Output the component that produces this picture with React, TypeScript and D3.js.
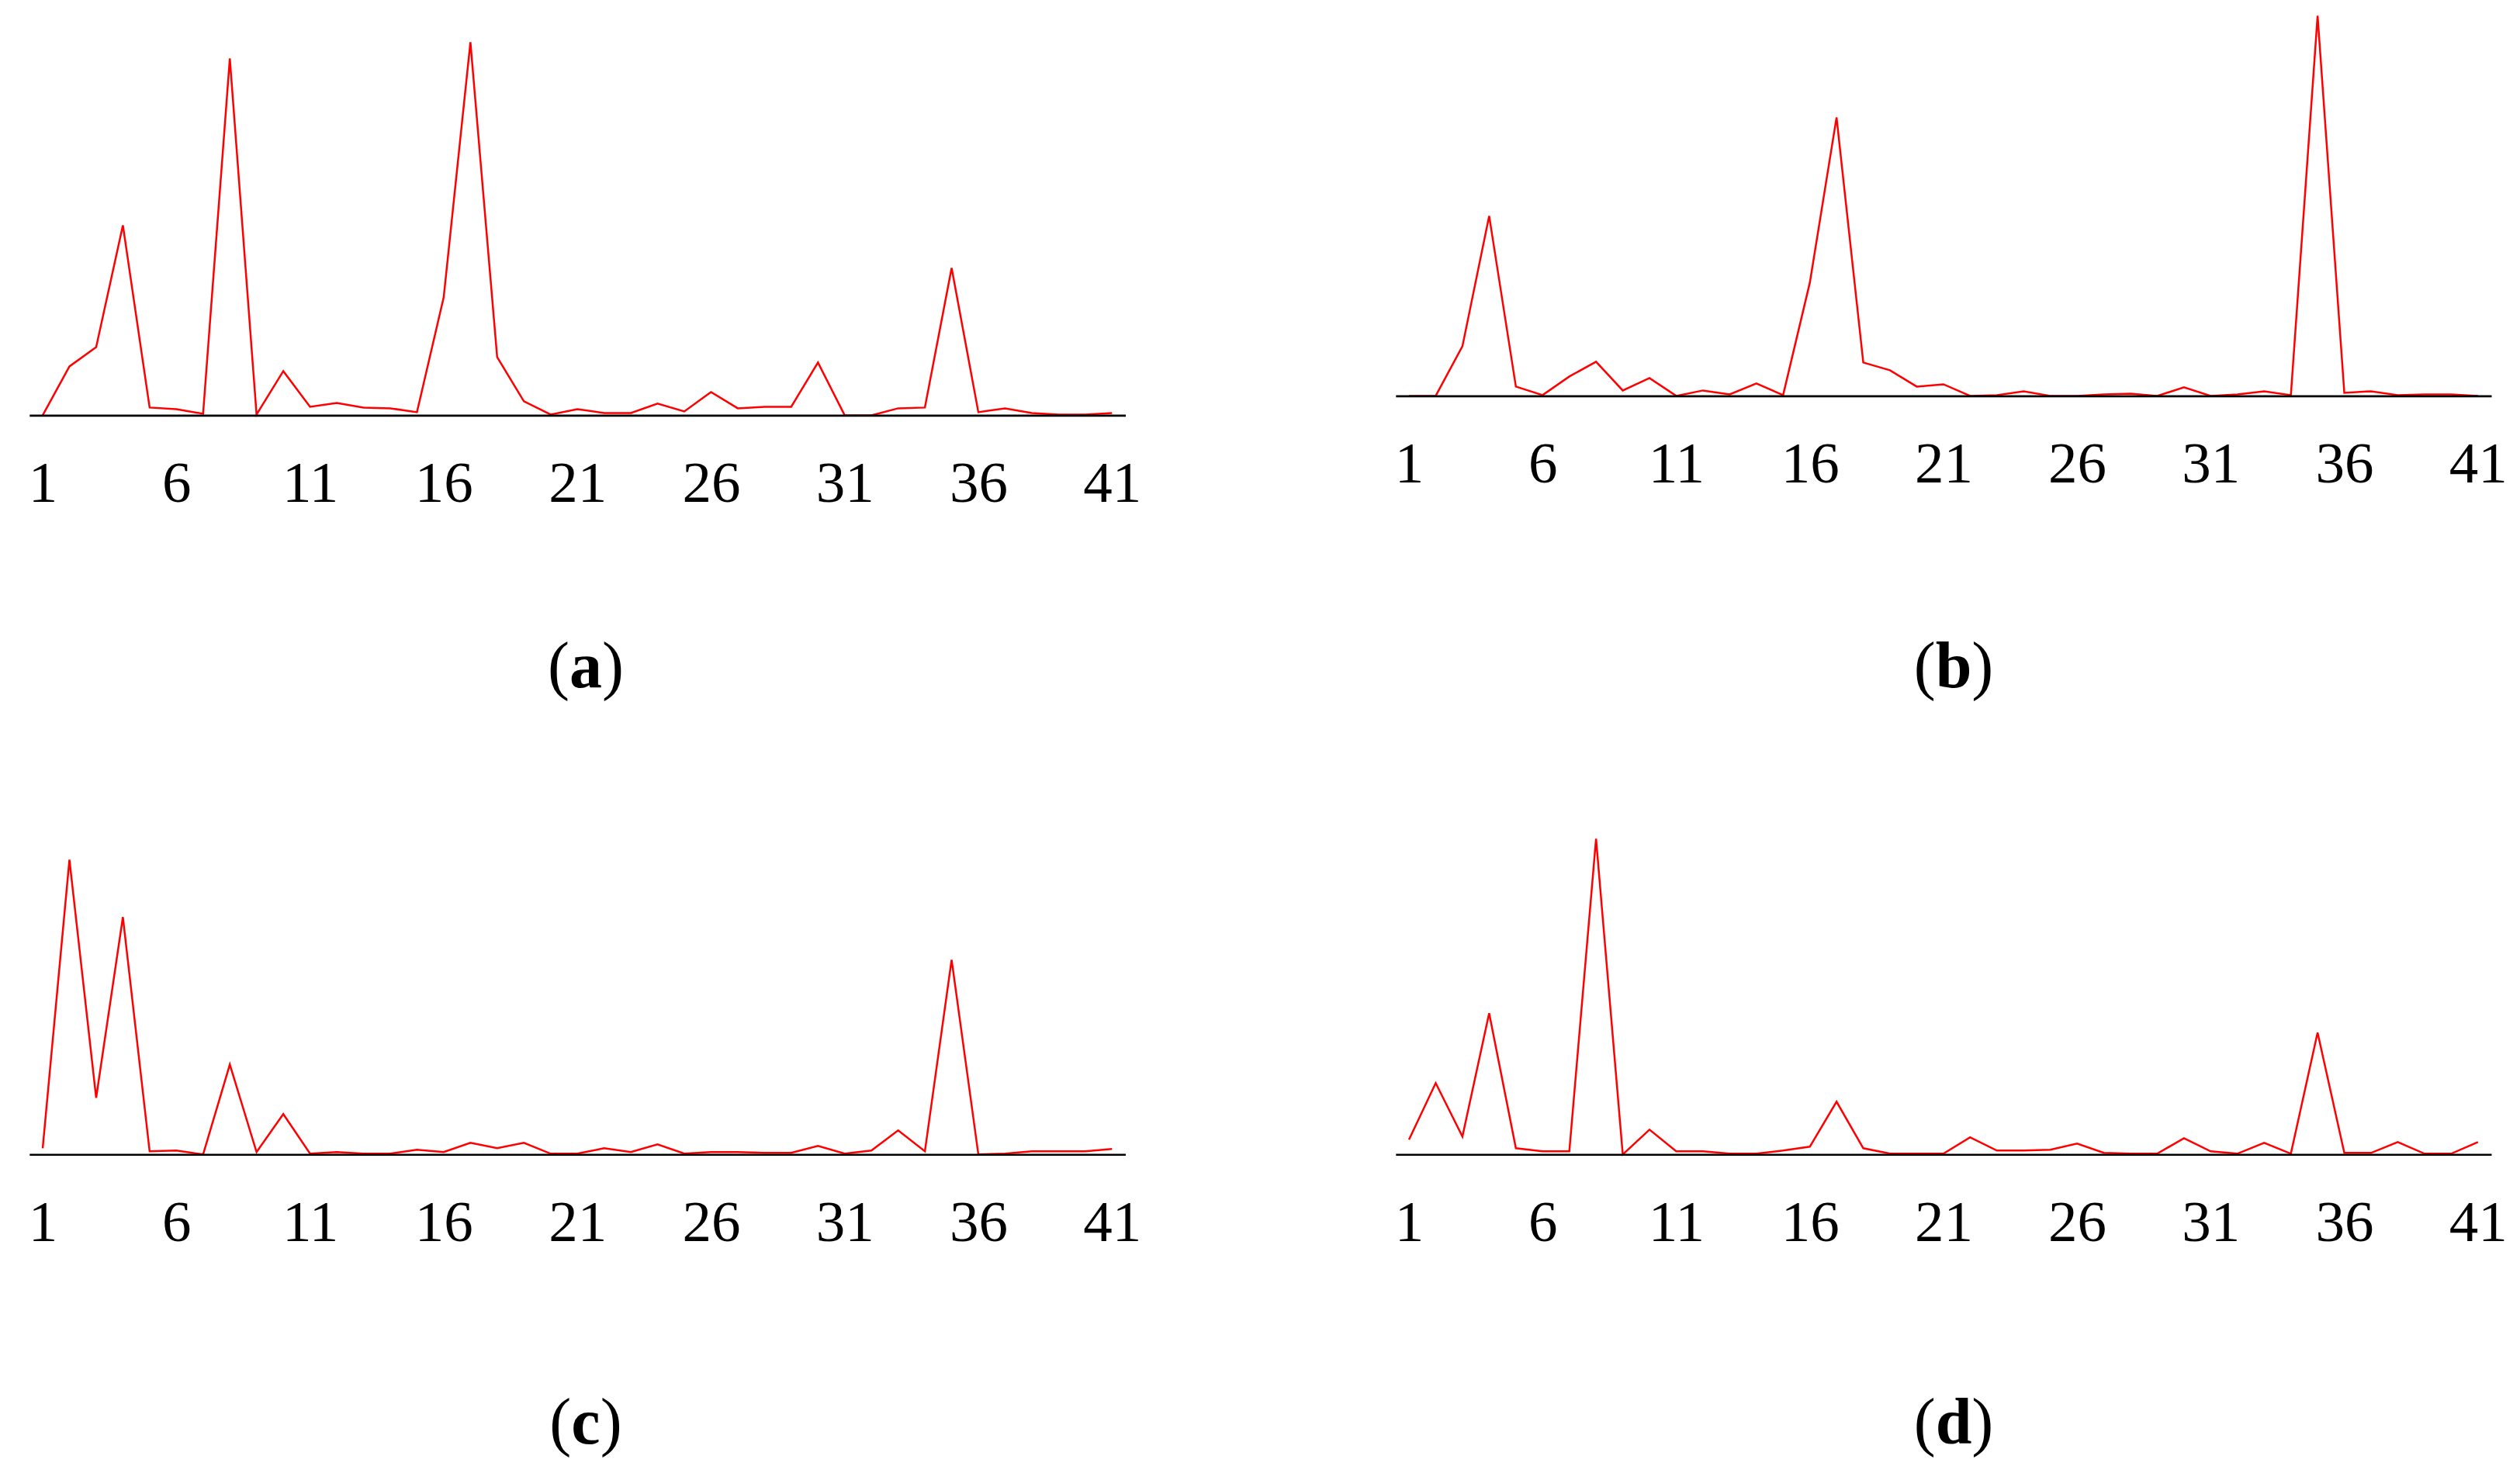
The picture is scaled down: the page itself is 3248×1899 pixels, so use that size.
import React, { useEffect, useRef } from "react";
import * as d3 from "d3";

// x 位置 1..41
const positions: number[] = d3.range(1, 42);
const tickValues: number[] = [1, 6, 11, 16, 21, 26, 31, 36, 41];

// 各子圖數值 (由圖上量測)
const seriesA: number[] = [
    0, 63, 88, 245, 10, 8, 2, 460, 1, 57,
    11, 16, 10, 9, 4, 152, 481, 75, 18, 1,
    8, 3, 3, 15, 5, 30, 9, 11, 11, 68,
    0, 0, 9, 10, 190, 4, 9, 3, 1, 1,
    3,
];
const seriesB: number[] = [
    0, 0, 64, 232, 12, 1, 25, 44, 7, 23,
    0, 7, 2, 16, 1, 146, 359, 43, 33, 12,
    15, 0, 1, 6, 0, 0, 2, 3, 0, 11,
    0, 2, 6, 1, 490, 4, 6, 1, 2, 2,
    0,
];
const seriesC: number[] = [
    8, 380, 73, 306, 4, 5, 0, 116, 3, 52,
    1, 3, 1, 1, 6, 3, 15, 8, 15, 1,
    1, 8, 3, 13, 1, 3, 3, 2, 2, 11,
    1, 5, 31, 4, 251, 0, 1, 4, 4, 4,
    7,
];
const seriesD: number[] = [
    19, 92, 23, 182, 8, 4, 4, 407, 0, 32,
    4, 4, 1, 1, 5, 10, 68, 8, 1, 1,
    1, 22, 5, 5, 6, 14, 2, 1, 1, 21,
    4, 1, 15, 1, 157, 2, 2, 16, 1, 1,
    16,
];
const panelLetters: string[] = ["a", "b", "c", "d"];

/** 子圖位置 */
const layout = [
    { x0: 37.8, x1: 1450.5, base: 535.4, labelX: 755, labelY: 886 },
    { x0: 1798.8, x1: 3211, base: 510.4, labelX: 2518, labelY: 886 },
    { x0: 37.8, x1: 1450.5, base: 1488.3, labelX: 755, labelY: 1861 },
    { x0: 1798.8, x1: 3211, base: 1488.3, labelX: 2518, labelY: 1861 },
];

const FONT = "'Liberation Serif', 'Times New Roman', Times, serif";

type PanelProps = {
    values: number[];
    letter: string;
    x0: number;
    x1: number;
    base: number;
    labelX: number;
    labelY: number;
};

/** 單一子圖 */
const Panel = (props: PanelProps) => {
    const axisRef = useRef<SVGGElement | null>(null);

    const x = d3.scalePoint<number>()
        .domain(positions)
        .range([props.x0, props.x1])
        .padding(0.5);

    // 數值單位即為像素高度
    const y = d3.scaleLinear()
        .domain([0, 500])
        .range([props.base, props.base - 500]);

    const line = d3.line<number>()
        .x((d, i) => x(positions[i]) as number)
        .y((d) => y(d));

    useEffect(() => {
        if (!axisRef.current) return;
        const g = d3.select(axisRef.current);
        g.selectAll("*").remove();
        g.call(
            d3.axisBottom(x)
                .tickValues(tickValues)
                .tickSize(0)
                .tickSizeOuter(0)
                .tickPadding(58)
        );
        g.select(".domain").attr("stroke", "#000").attr("stroke-width", 2.6);
        g.selectAll(".tick text")
            .attr("fill", "#000")
            .attr("font-family", FONT)
            .attr("font-size", 75);
    }, []);

    return <g>
        <path d={line(props.values) || ""} fill="none" stroke="#ff0000" strokeWidth={2.5} strokeLinejoin="miter" />
        <g ref={axisRef} transform={`translate(0, ${props.base})`} />
        <text x={props.labelX} y={props.labelY} textAnchor="middle" fontFamily={FONT} fontSize={84} fill="#000">
            (<tspan fontWeight="bold">{props.letter}</tspan>)
        </text>
    </g>;
};

export default function App() {
    useEffect(() => {
        document.body.style.margin = "0";
    }, []);

    const allSeries = [seriesA, seriesB, seriesC, seriesD];

    return <svg width={3248} height={1899} style={{ display: "block", background: "#fff" }}>
        <rect x={0} y={0} width={3248} height={1899} fill="#fff" />
        {allSeries.map((s, i) => (
            <Panel key={panelLetters[i]} values={s} letter={panelLetters[i]} {...layout[i]} />
        ))}
    </svg>;
}
